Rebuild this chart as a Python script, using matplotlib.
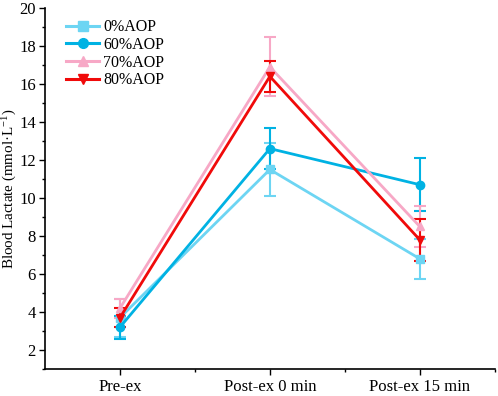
import matplotlib
matplotlib.use("Agg")
import matplotlib.pyplot as plt
from matplotlib.ticker import MultipleLocator, FixedLocator
from matplotlib.lines import Line2D

plt.rcParams['font.family'] = ['Liberation Serif', 'DejaVu Serif']
plt.rcParams['mathtext.fontset'] = 'custom'
plt.rcParams['mathtext.rm'] = 'Liberation Serif'
plt.rcParams['mathtext.it'] = 'Liberation Serif:italic'

categories = ["Pre-ex", "Post-ex 0 min", "Post-ex 15 min"]
series = ["0%AOP", "60%AOP", "70%AOP", "80%AOP"]
means = {
    "0%AOP":  [3.7, 11.5, 6.8],
    "60%AOP": [3.2, 12.6, 10.7],
    "70%AOP": [4.2, 16.9, 8.5],
    "80%AOP": [3.7, 16.4, 7.8],
}
errors = {
    "0%AOP":  [1.0, 1.4, 1.05],
    "60%AOP": [0.6, 1.1, 1.4],
    "70%AOP": [0.5, 1.55, 1.1],
    "80%AOP": [0.5, 0.8, 1.1],
}
colors = {"0%AOP": "#6dd5f3", "60%AOP": "#00b2e3", "70%AOP": "#f7a8c6", "80%AOP": "#f00a0a"}
markers = {"0%AOP": "s", "60%AOP": "o", "70%AOP": "^", "80%AOP": "v"}

fig = plt.figure(figsize=(4.98, 3.96), dpi=100)
ax = fig.add_axes([0.0904, 0.0682, 0.903, 0.9116])

x = [1, 2, 3]
handles = []
for s in series:
    ax.errorbar(x, means[s], yerr=errors[s], color=colors[s], marker=markers[s],
                markersize=6, linewidth=2, elinewidth=1.5, capsize=4, capthick=1.5)
    handles.append(Line2D([], [], color=colors[s], marker=markers[s], markersize=7,
                          linewidth=2.2, label=s))

ax.set_xlim(0.5, 3.5)
ax.set_ylim(1, 20)
ax.set_xticks(x)
ax.set_xticklabels(categories)
ax.xaxis.set_minor_locator(FixedLocator([1.5, 2.5, 3.5]))
ax.yaxis.set_major_locator(MultipleLocator(2))
ax.yaxis.set_minor_locator(MultipleLocator(1))
ax.tick_params(axis='both', which='major', direction='out', length=4, width=1, labelsize=12)
ax.tick_params(axis='x', which='major', pad=3)
ax.tick_params(axis='y', which='major', pad=2.5)
ax.tick_params(axis='both', which='minor', direction='out', length=2.5, width=1)
for sp in ['top', 'right']:
    ax.spines[sp].set_visible(False)
for sp in ['left', 'bottom']:
    ax.spines[sp].set_linewidth(1.2)
ax.set_ylabel("Blood Lactate (mmol·L$^{-1}$)", fontsize=10.8)
ax.yaxis.set_label_coords(-0.058, 0.5)

ax.legend(handles=handles, loc='upper left', bbox_to_anchor=(0.025, 0.995), frameon=False,
          fontsize=11.5, handlelength=2.1, handletextpad=0.25, labelspacing=0.1,
          borderaxespad=0.2)

fig.savefig("out.png", dpi=100)
